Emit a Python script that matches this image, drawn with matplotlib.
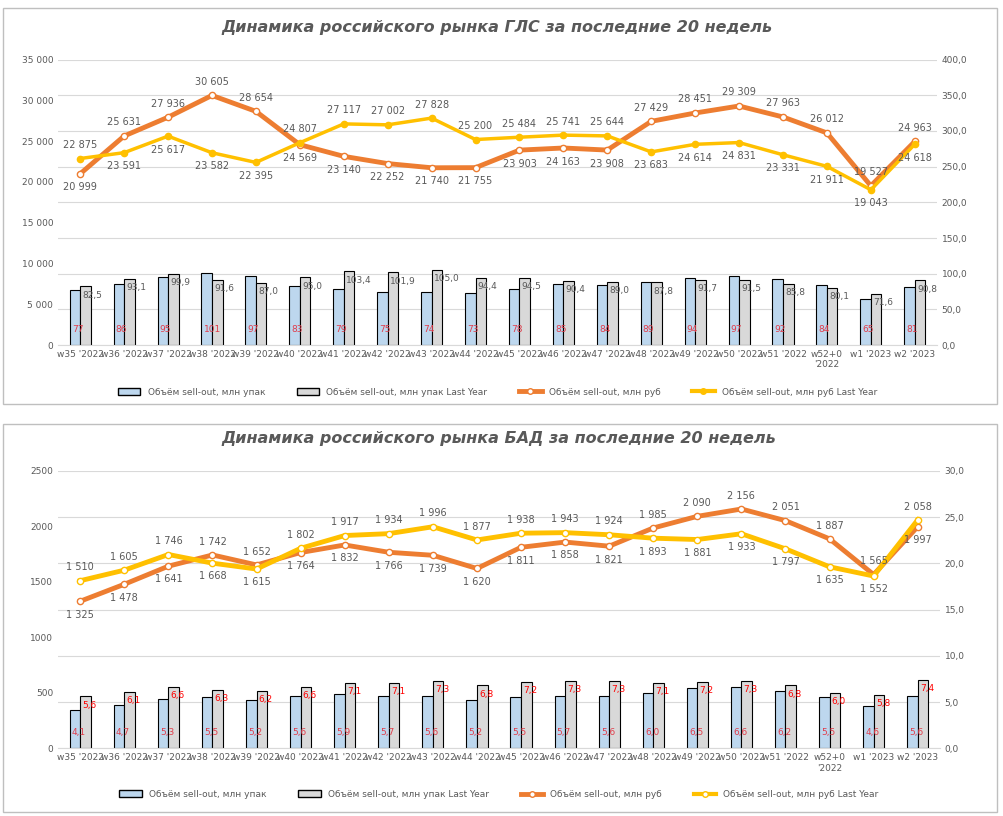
import matplotlib
matplotlib.use("Agg")
import matplotlib.pyplot as plt
import numpy as np
from matplotlib.patches import Rectangle, Patch
from matplotlib.lines import Line2D

weeks = ["w35 '2022", "w36 '2022", "w37 '2022", "w38 '2022", "w39 '2022", "w40 '2022",
         "w41 '2022", "w42 '2022", "w43 '2022", "w44 '2022", "w45 '2022", "w46 '2022",
         "w47 '2022", "w48 '2022", "w49 '2022", "w50 '2022", "w51 '2022", "w52+0\n'2022",
         "w1 '2023", "w2 '2023"]

# ГЛС
gls_rub = [20999, 25631, 27936, 30605, 28654, 24569, 23140, 22252, 21740, 21755,
           23903, 24163, 23908, 27429, 28451, 29309, 27963, 26012, 19527, 24963]
gls_rub_ly = [22875, 23591, 25617, 23582, 22395, 24807, 27117, 27002, 27828, 25200,
              25484, 25741, 25644, 23683, 24614, 24831, 23331, 21911, 19043, 24618]
gls_pack = [77, 86, 95, 101, 97, 83, 79, 75, 74, 73, 78, 85, 84, 89, 94, 97, 92, 84, 65, 81]
gls_pack_ly = [82.5, 93.1, 99.9, 91.6, 87.0, 95.0, 103.4, 101.9, 105.0, 94.4,
               94.5, 90.4, 89.0, 87.8, 91.7, 91.5, 85.8, 80.1, 71.6, 90.8]

# БАД
bad_rub = [1325, 1478, 1641, 1742, 1652, 1764, 1832, 1766, 1739, 1620,
           1811, 1858, 1821, 1985, 2090, 2156, 2051, 1887, 1565, 1997]
bad_rub_ly = [1510, 1605, 1746, 1668, 1615, 1802, 1917, 1934, 1996, 1877,
              1938, 1943, 1924, 1893, 1881, 1933, 1797, 1635, 1552, 2058]
bad_pack = [4.1, 4.7, 5.3, 5.5, 5.2, 5.6, 5.9, 5.7, 5.6, 5.2,
            5.5, 5.7, 5.6, 6.0, 6.5, 6.6, 6.2, 5.5, 4.6, 5.6]
bad_pack_ly = [5.6, 6.1, 6.6, 6.3, 6.2, 6.6, 7.1, 7.1, 7.3, 6.8,
               7.2, 7.3, 7.3, 7.1, 7.2, 7.3, 6.8, 6.0, 5.8, 7.4]

ORANGE = "#ED7D31"
YELLOW = "#FFC000"
BLUE = "#BDD7EE"
GREY = "#D9D9D9"
TXT = "#595959"

plt.rcParams['font.family'] = ['DejaVu Sans']


def sp(v):
    return f"{v:,.0f}".replace(",", " ")


def com(v):
    return f"{v:.1f}".replace(".", ",")


def panel(fig, rect, box, title, rub, rub_ly, pack, pack_ly, lmax, lstep, rmax, rstep, lfmt):
    fig.patches.append(Rectangle(box[:2], box[2], box[3], transform=fig.transFigure,
                                 fill=False, edgecolor="#BFBFBF", lw=1))
    ax = fig.add_axes(rect)
    ax2 = ax.twinx()
    x = np.arange(len(weeks))
    w = 0.24
    small = rmax < 100
    ax2.bar(x - w / 2, pack, w, color=BLUE, edgecolor="black", lw=0.8, zorder=2)
    ax2.bar(x + w / 2, pack_ly, w, color=GREY, edgecolor="black", lw=0.8, zorder=2)
    for i in range(len(x)):
        ax2.text(x[i] - w / 2 - 0.07, rmax * 0.04, com(pack[i]) if small else f"{pack[i]:.0f}",
                 color="#E03C4A", fontsize=6.5, ha="left", va="bottom", zorder=5)
        ax2.text(x[i] + w / 2 - 0.07, pack_ly[i] - rmax * 0.015, com(pack_ly[i]),
                 color="red" if small else TXT, fontsize=6.5, ha="left", va="top", zorder=5)
    ax2.set_ylim(0, rmax)
    rt = np.arange(0, rmax + 0.01, rstep)
    ax2.set_yticks(rt)
    ax2.set_yticklabels([com(v) for v in rt])

    ax.set_zorder(ax2.get_zorder() + 1)
    ax.patch.set_visible(False)
    ax.plot(x, rub, color=ORANGE, lw=3.5, marker="o", ms=4.5, mfc="white", mec=ORANGE)
    ax.plot(x, rub_ly, color=YELLOW, lw=3.5 if small else 2.5, marker="o", ms=4.5,
            mfc="white" if small else YELLOW, mec=YELLOW)
    off = lmax * 0.03
    for i in range(len(x)):
        hi, lo = (rub[i], rub_ly[i]) if rub[i] >= rub_ly[i] else (rub_ly[i], rub[i])
        ax.text(x[i], hi + off, sp(hi), ha="center", va="bottom", fontsize=7, color=TXT)
        ax.text(x[i], lo - off, sp(lo), ha="center", va="top", fontsize=7, color=TXT)
    ax.set_ylim(0, lmax)
    ticks = np.arange(0, lmax + 1, lstep)
    ax.set_yticks(ticks)
    ax.set_yticklabels([lfmt(t) for t in ticks])
    ax.set_xlim(-0.5, len(x) - 0.5)
    ax.set_xticks(x)
    ax.set_xticklabels(weeks)
    for a in (ax, ax2):
        for s in a.spines.values():
            s.set_visible(False)
        a.tick_params(length=0, labelsize=6.5, colors=TXT)
    ax.spines["bottom"].set_visible(True)
    ax.spines["bottom"].set_color("#D9D9D9")
    ax2.grid(axis="y", color="#D9D9D9", lw=0.8, zorder=0)
    ax2.set_axisbelow(True)
    ax.set_title(title, fontsize=11.5, fontweight="bold", style="italic", color=TXT, pad=20)

    handles = [Patch(facecolor=BLUE, edgecolor="black", label="Объём sell-out, млн упак"),
               Patch(facecolor=GREY, edgecolor="black", label="Объём sell-out, млн упак Last Year"),
               Line2D([], [], color=ORANGE, lw=3.5, marker="o", ms=4, mfc="white",
                      label="Объём sell-out, млн руб"),
               Line2D([], [], color=YELLOW, lw=3, marker="o", ms=4,
                      mfc="white" if small else YELLOW, label="Объём sell-out, млн руб Last Year")]
    ax.legend(handles=handles, loc="upper center", bbox_to_anchor=(0.5, -0.12), ncol=4,
              frameon=False, fontsize=6.5, labelcolor=TXT, columnspacing=3.5, handlelength=2.5)


fig = plt.figure(figsize=(10.04, 8.16), dpi=100)
panel(fig, [0.058, 0.577, 0.875, 0.35], [0.003, 0.505, 0.99, 0.485],
      "Динамика российского рынка ГЛС за последние 20 недель",
      gls_rub, gls_rub_ly, gls_pack, gls_pack_ly, 35000, 5000, 400, 50, sp)
panel(fig, [0.058, 0.083, 0.878, 0.34], [0.003, 0.005, 0.99, 0.475],
      "Динамика российского рынка БАД за последние 20 недель",
      bad_rub, bad_rub_ly, bad_pack, bad_pack_ly, 2500, 500, 30, 5, lambda t: f"{t:.0f}")
fig.savefig("out.png", dpi=100)
